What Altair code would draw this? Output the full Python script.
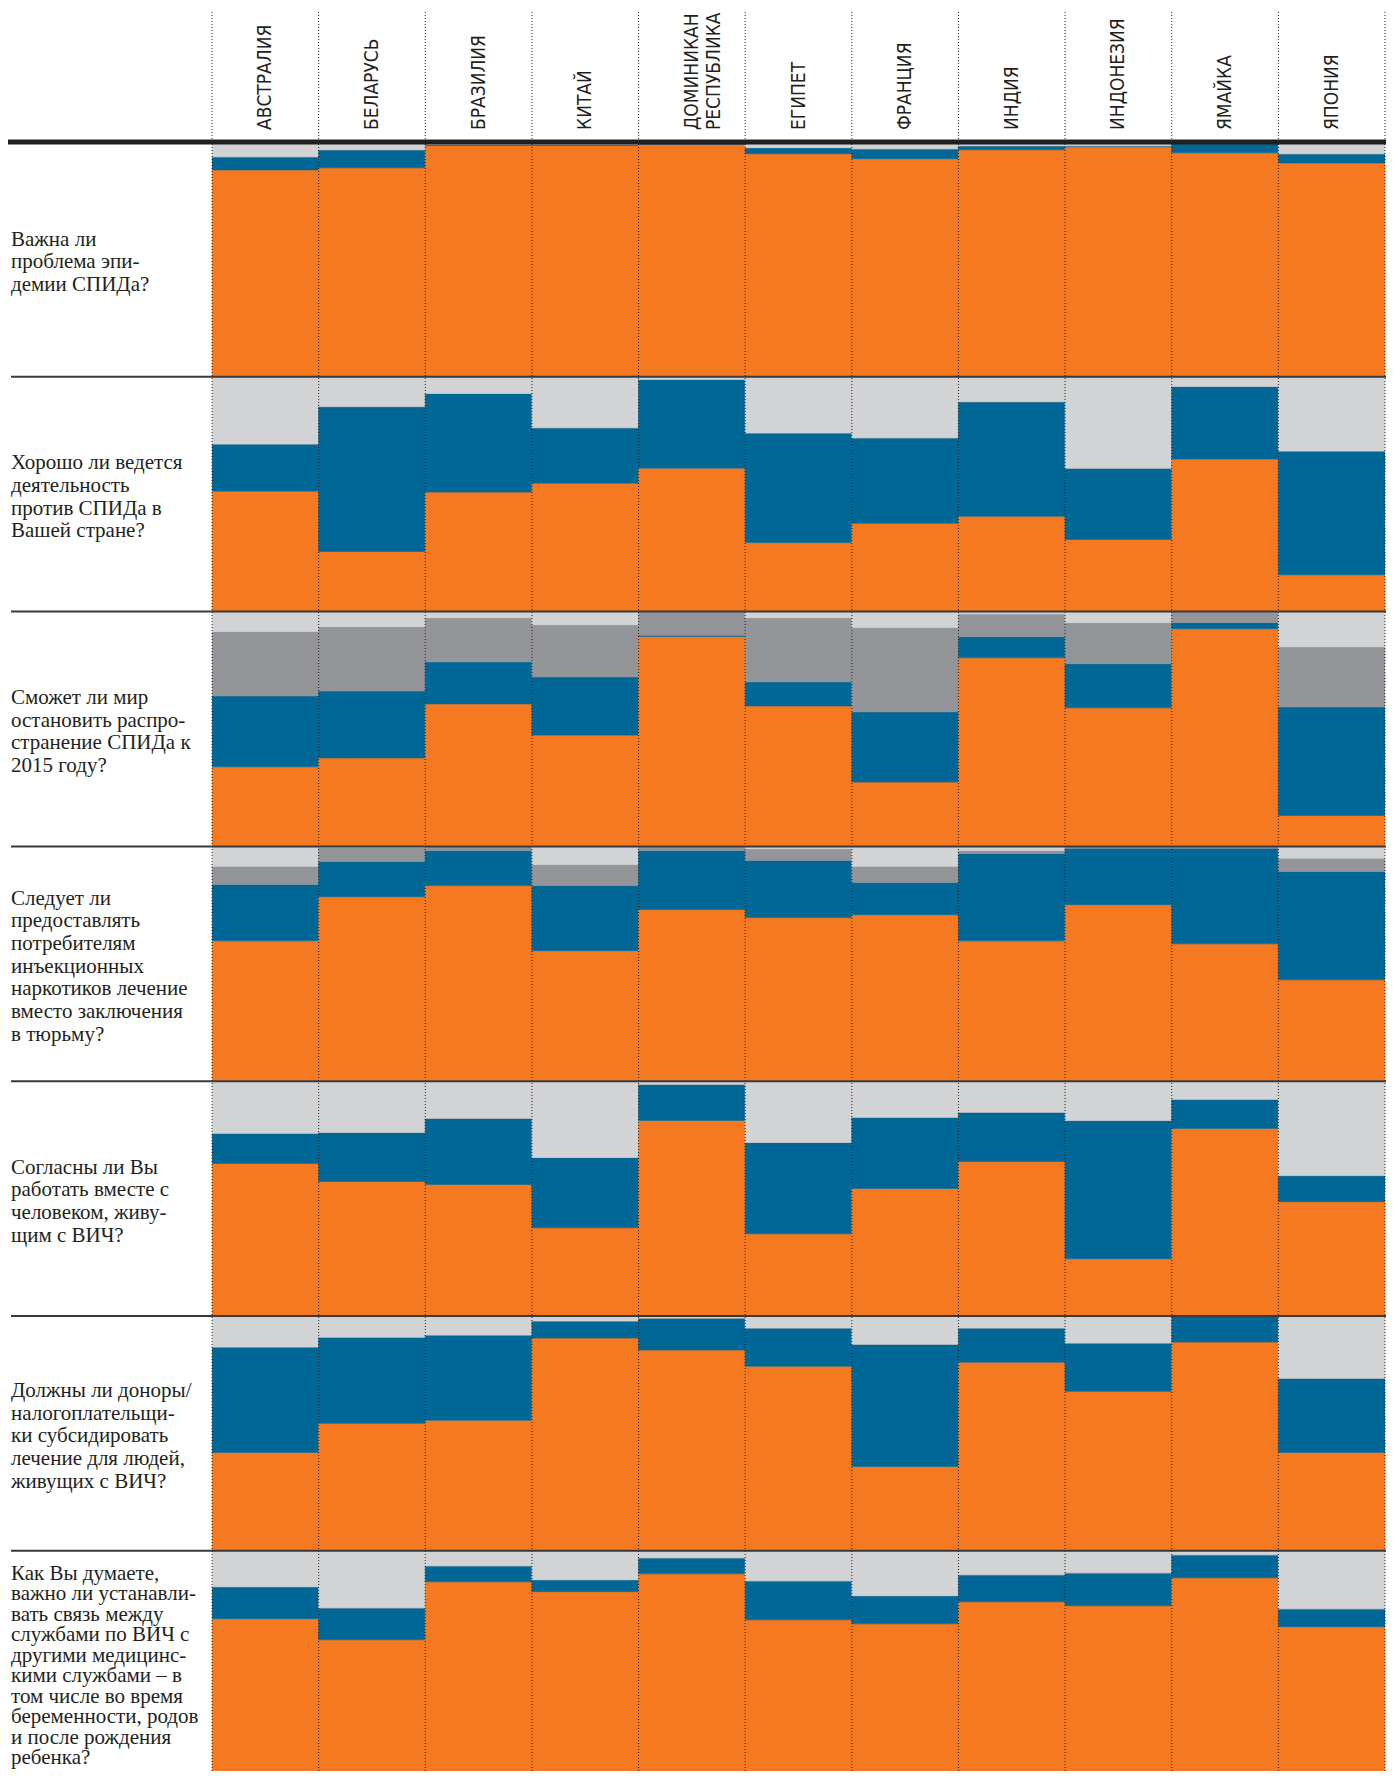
import altair as alt
import pandas as pd

countries = ["АВСТРАЛИЯ", "БЕЛАРУСЬ", "БРАЗИЛИЯ", "КИТАЙ", "ДОМИНИКАН|РЕСПУБЛИКА",
             "ЕГИПЕТ", "ФРАНЦИЯ", "ИНДИЯ", "ИНДОНЕЗИЯ", "ЯМАЙКА", "ЯПОНИЯ"]

questions = [
    "Важна ли|проблема эпи-|демии СПИДа?",
    "Хорошо ли ведется|деятельность|против СПИДа в|Вашей стране?",
    "Сможет ли мир|остановить распро-|странение СПИДа к|2015 году?",
    "Следует ли|предоставлять|потребителям|инъекционных|наркотиков лечение|вместо заключения|в тюрьму?",
    "Согласны ли Вы|работать вместе с|человеком, живу-|щим с ВИЧ?",
    "Должны ли доноры/|налогоплательщи-|ки субсидировать|лечение для людей,|живущих с ВИЧ?",
    "Как Вы думаете,|важно ли устанавли-|вать связь между|службами по ВИЧ с|другими медицинс-|кими службами – в|том числе во время|беременности, родов|и после рождения|ребенка?",
]

categories = ["Да", "Нет", "Не знаю", "Нет ответа"]
colors = ["#F47920", "#006796", "#939598", "#D1D3D4"]

# percentages per question (rows) and country (columns)
yes = [
    [88.1, 89.0, 98.5, 98.5, 99.0, 95.0, 92.9, 96.7, 98.0, 95.4, 91.1],
    [51.3, 25.6, 50.9, 54.7, 61.1, 29.4, 37.6, 40.6, 30.7, 65.0, 15.7],
    [33.9, 37.7, 60.7, 47.4, 89.4, 59.8, 27.4, 80.3, 59.0, 92.7, 13.2],
    [59.8, 78.6, 83.3, 55.6, 73.1, 69.7, 70.9, 59.8, 75.2, 58.5, 43.2],
    [65.0, 57.3, 56.0, 37.6, 83.3, 35.0, 54.3, 65.8, 24.4, 79.9, 48.7],
    [41.9, 54.3, 55.6, 90.6, 85.5, 78.6, 35.9, 80.3, 67.9, 88.9, 41.9],
    [71.1, 62.1, 86.8, 82.6, 90.2, 70.6, 68.9, 78.3, 76.6, 88.5, 67.7],
]
no = [
    [5.6, 7.7, 0.5, 0.5, 1.0, 2.6, 4.2, 1.7, 0.4, 4.6, 3.9],
    [20.1, 61.7, 42.0, 23.6, 37.8, 46.7, 36.4, 48.8, 30.4, 30.9, 52.7],
    [30.2, 28.5, 17.9, 24.8, 0.5, 10.3, 29.9, 9.0, 18.8, 2.6, 46.2],
    [24.0, 15.0, 15.0, 27.7, 25.2, 24.3, 13.7, 37.2, 24.0, 40.7, 46.1],
    [12.8, 20.9, 28.2, 29.9, 15.4, 38.9, 30.3, 21.0, 58.9, 12.4, 11.1],
    [44.9, 36.7, 36.3, 7.3, 13.6, 16.3, 52.1, 14.6, 20.6, 11.1, 31.6],
    [13.6, 13.6, 6.8, 5.1, 6.8, 16.6, 12.0, 11.5, 14.0, 9.8, 7.6],
]
unsure = [
    [0, 0, 0, 0, 0, 0, 0, 0, 0, 0, 0],
    [0, 0, 0, 0, 0, 0, 0, 0, 0, 0, 0],
    [27.4, 27.4, 18.8, 22.2, 10.1, 27.3, 35.9, 9.7, 17.5, 4.7, 25.6],
    [7.7, 6.0, 1.7, 9.0, 1.7, 5.0, 6.9, 1.3, 0.8, 0.8, 5.6],
    [0, 0, 0, 0, 0, 0, 0, 0, 0, 0, 0],
    [0, 0, 0, 0, 0, 0, 0, 0, 0, 0, 0],
    [0, 0, 0, 0, 0, 0, 0, 0, 0, 0, 0],
]
no_answer = [
    [6.3, 3.3, 1.0, 1.0, 0.0, 2.4, 2.9, 1.6, 1.6, 0.0, 5.0],
    [28.6, 12.7, 7.1, 21.7, 1.1, 23.9, 26.0, 10.6, 38.9, 4.1, 31.6],
    [8.5, 6.4, 2.6, 5.6, 0.0, 2.6, 6.8, 1.0, 4.7, 0.0, 15.0],
    [8.5, 0.4, 0.0, 7.7, 0.0, 1.0, 8.5, 1.7, 0.0, 0.0, 5.1],
    [22.2, 21.8, 15.8, 32.5, 1.3, 26.1, 15.4, 13.2, 16.7, 7.7, 40.2],
    [13.2, 9.0, 8.1, 2.1, 0.9, 5.1, 12.0, 5.1, 11.5, 0.0, 26.5],
    [15.3, 24.3, 6.4, 12.3, 3.0, 12.8, 19.1, 10.2, 9.4, 1.7, 24.7],
]

# ---------------- layout ----------------
PLOT_W = 1173
PLOT_H = 1629
ROW_PX = 234.8
PAD_LEFT = 204
PAD_TOP = 134
YMAX = PLOT_H / ROW_PX * 100
PX_PER_UNIT = PLOT_H / YMAX
LH_MAIN = 22.7    # question text line height (rows 1-6), px
LH_LAST = 20.5    # tighter line height of the long last question, px

# ---------------- data tables ----------------
series = [yes, no, unsure, no_answer]
rows = []
for qi in range(len(questions)):
    for ci in range(len(countries)):
        base = qi * 100 + 100
        cum = 0.0
        for k, cat in enumerate(categories):
            v = series[k][qi][ci]
            rows.append({"x0": ci, "x1": ci + 1, "y0": base - cum, "y1": base - cum - v,
                         "cat": cat, "order": k})
            cum += v
bars_df = pd.DataFrame(rows)

head_df = pd.DataFrame({"xc": [i + 0.5 for i in range(len(countries))], "name": countries})
q_df = pd.DataFrame({"row": list(range(len(questions))),
                     "yc": [i * 100 + 50 for i in range(len(questions))],
                     "q": questions})
vlines_df = pd.DataFrame({"b": list(range(len(countries) + 1))})
hlines_df = pd.DataFrame({"r": [i * 100 for i in range(1, len(questions))]})

xscale = alt.Scale(domain=[0, len(countries)], nice=False, zero=False)
yscale = alt.Scale(domain=[0, YMAX], reverse=True, nice=False, zero=False)
cscale = alt.Scale(domain=categories, range=colors)

bars = alt.Chart(bars_df).mark_rect(clip=True, strokeWidth=0.6).encode(
    x=alt.X("x0:Q", scale=xscale, axis=None),
    x2="x1:Q",
    y=alt.Y("y0:Q", scale=yscale, axis=None),
    y2="y1:Q",
    color=alt.Color("cat:N", scale=cscale, legend=None),
    stroke=alt.Stroke("cat:N", scale=cscale, legend=None),
)

vlines = alt.Chart(vlines_df).mark_rule(
    strokeDash=[1, 2], strokeWidth=1, color="#231F20"
).encode(
    x=alt.X("b:Q", scale=xscale, axis=None),
    y=alt.value(-130),
    y2=alt.value(PLOT_H),
)

hlines = alt.Chart(hlines_df).mark_rule(strokeWidth=2, color="#3A3A3A").encode(
    y=alt.Y("r:Q", scale=yscale, axis=None),
    x=alt.value(-201),
    x2=alt.value(PLOT_W + 1),
)

topline = alt.Chart(pd.DataFrame({"r": [0]})).mark_rule(strokeWidth=5, color="#231F20").encode(
    y=alt.Y("r:Q", scale=yscale, axis=None),
    x=alt.value(-204),
    x2=alt.value(PLOT_W + 1),
)

headers = alt.Chart(head_df).transform_calculate(
    lines="split(datum.name, '|')"
).mark_text(
    angle=270, align="left", baseline="middle",
    font="DejaVu Sans Condensed, Liberation Sans, Arial, sans-serif",
    fontSize=19, lineHeight=22, color="#231F20",
).encode(
    x=alt.X("xc:Q", scale=xscale, axis=None),
    y=alt.value(-12),
    text="lines:N",
)


def question_layer(filter_expr, lh, dy):
    lh_units = lh / PX_PER_UNIT
    return alt.Chart(q_df).transform_filter(filter_expr).transform_calculate(
        lines="split(datum.q, '|')"
    ).transform_calculate(
        ytop=f"datum.yc - (length(datum.lines) - 1) / 2 * {lh_units}"
    ).mark_text(
        align="left", baseline="middle",
        font="Liberation Serif, DejaVu Serif, serif",
        fontSize=21, lineHeight=lh, color="#231F20", dy=dy,
    ).encode(
        x=alt.value(-201),
        y=alt.Y("ytop:Q", scale=yscale, axis=None),
        text="lines:N",
    )


qtext_main = question_layer(f"datum.row < {len(questions) - 1}", LH_MAIN, 3)
qtext_last = question_layer(f"datum.row == {len(questions) - 1}", LH_LAST, -2)

chart = alt.layer(bars, vlines, hlines, topline, headers, qtext_main, qtext_last).properties(
    width=PLOT_W,
    height=PLOT_H,
    autosize=alt.AutoSizeParams(type="none"),
    padding={"left": PAD_LEFT, "top": PAD_TOP, "right": 1, "bottom": 0},
).configure_view(stroke=None)

chart.save("out.html", embed_options={"renderer": "svg", "actions": False})
